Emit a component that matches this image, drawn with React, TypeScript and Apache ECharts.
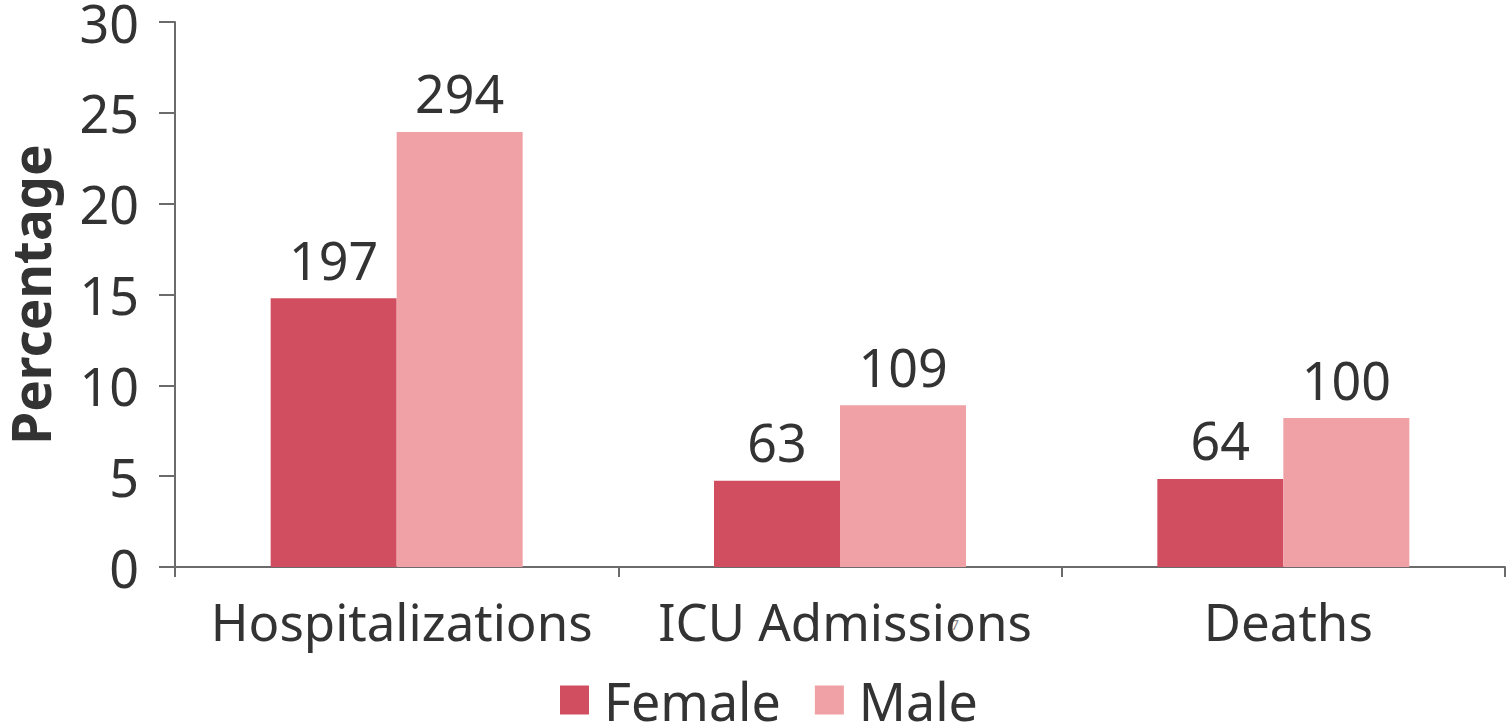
import React, { useEffect, useRef } from "react";
import * as echarts from "echarts";

const categories = ["Hospitalizations", "ICU Admissions", "Deaths"];
const femalePct = [14.8, 4.75, 4.85];
const malePct = [23.95, 8.9, 8.2];
const femaleCounts = [197, 63, 64];
const maleCounts = [294, 109, 100];
const yTicks = [0, 5, 10, 15, 20, 25, 30];

const FONT = "'Noto Sans', 'Open Sans', sans-serif";
const TEXT = "#333333";
const AXIS = "#6b6b6b";
const FS = 52;

export default function App() {
  const ref = useRef<HTMLDivElement>(null);
  useEffect(() => {
    if (!ref.current) return;
    const chart = echarts.init(ref.current, null, { renderer: "svg" });
    chart.setOption({
      animation: false,
      textStyle: { fontFamily: FONT },
      grid: { left: 175, right: 4, top: 22, bottom: 155, containLabel: false, outerBoundsMode: "none" },
      legend: {
        top: 674,
        left: 560,
        padding: 0,
        itemWidth: 29,
        itemHeight: 29,
        itemGap: 34,
        icon: "rect",
        textStyle: { fontSize: FS, color: TEXT, fontFamily: FONT, padding: [0, 0, 14, 10] },
        data: ["Female", "Male"],
      },
      xAxis: {
        type: "category",
        data: categories,
        axisLine: { lineStyle: { color: AXIS, width: 2 } },
        axisTick: { show: true, length: 10, alignWithLabel: false, lineStyle: { color: AXIS, width: 2 } },
        axisLabel: { fontSize: 51, color: TEXT, margin: 28, fontFamily: FONT, interval: 0, padding: [0, 0, 0, 10] },
      },
      yAxis: {
        type: "value",
        min: 0,
        max: 30,
        interval: 5,
        name: "Percentage",
        nameLocation: "middle",
        nameGap: 118,
        nameTextStyle: { fontSize: 53, fontWeight: "bold", color: TEXT, fontFamily: FONT },
        axisLine: { show: true, lineStyle: { color: AXIS, width: 2 } },
        axisTick: { show: true, length: 16, lineStyle: { color: AXIS, width: 2 } },
        splitLine: { show: false },
        axisLabel: {
          fontSize: FS,
          color: TEXT,
          margin: 36,
          fontFamily: FONT,
          formatter: (v: number) => (yTicks.includes(v) ? String(v) : ""),
        },
      },
      series: [
        {
          name: "Female",
          type: "bar",
          data: femalePct,
          barWidth: 126,
          barGap: "0%",
          itemStyle: { color: "#D04E60" },
          label: {
            show: true,
            position: "top",
            distance: 13,
            fontSize: FS,
            color: TEXT,
            fontFamily: FONT,
            formatter: (p: any) => String(femaleCounts[p.dataIndex]),
          },
        },
        {
          name: "Male",
          type: "bar",
          data: malePct,
          barWidth: 126,
          barGap: "0%",
          itemStyle: { color: "#F0A1A5" },
          label: {
            show: true,
            position: "top",
            distance: 13,
            fontSize: FS,
            color: TEXT,
            fontFamily: FONT,
            formatter: (p: any) => String(maleCounts[p.dataIndex]),
          },
        },
      ],
      graphic: [
        {
          type: "text",
          left: 951,
          top: 617,
          style: { text: "7", fontSize: 14, fill: "#888888", fontFamily: FONT },
        },
      ],
    });
    return () => chart.dispose();
  }, []);
  return <div ref={ref} style={{ width: 1509, height: 722, position: "absolute", left: 0, top: 0 }} />;
}
